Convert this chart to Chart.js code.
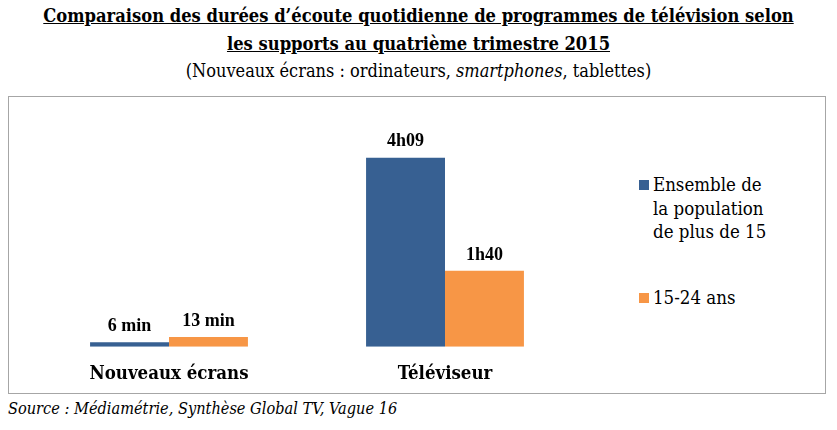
<!DOCTYPE html>
<html lang="fr">
<head>
<meta charset="UTF-8" />
<title>Durées d'écoute quotidienne</title>
<script src="https://cdn.jsdelivr.net/npm/chart.js"></script>
<style>
  body {
    margin: 0;
    width: 837px;
    height: 430px;
    background: #fff;
    font-family: 'DejaVu Serif Condensed', 'Liberation Serif', serif;
    color: #000;
    position: relative;
    overflow: hidden;
  }
  .titre {
    position: absolute;
    left: 0; width: 837px;
    text-align: center;
    font-weight: bold;
    font-size: 18.2px;
    text-decoration: underline;
    white-space: nowrap;
  }
  .sous-titre {
    position: absolute;
    left: 0; width: 837px; top: 60px;
    text-align: center;
    font-size: 18px;
  }
  #cadre {
    position: absolute;
    left: 8px; top: 96px;
    width: 816px; height: 296px;
    border: 1px solid #a6a6a6;
  }
  #cadre canvas { position: absolute; left: 0; top: 0; }
  #legende {
    position: absolute;
    left: 630px; top: 76px;
    font-family: 'DejaVu Serif Condensed', 'Liberation Serif', serif;
    font-size: 18.5px;
    line-height: 23.5px;
  }
  .item { position: relative; padding-left: 14px; }
  .item .carre { position: absolute; left: 0; top: 7px; width: 10px; height: 10px; }
  .source {
    position: absolute;
    left: 8px; top: 399px;
    font-style: italic;
    font-size: 16.2px;
  }
</style>
</head>
<body>

<div class="titre" style="top:5px">Comparaison des durées d’écoute quotidienne de programmes de télévision selon</div>
<div class="titre" style="top:33px"><u>les</u> supports au quatrième trimestre 2015</div>
<div class="sous-titre">(Nouveaux écrans : ordinateurs, <i>smartphones</i>, tablettes)</div>

<div id="cadre">
  <canvas id="graphe" width="600" height="296"></canvas>
  <div id="legende"></div>
</div>

<div class="source">Source : Médiamétrie, Synthèse Global TV, Vague 16</div>

<script>
  // données (minutes par jour)
  const supports = ['Nouveaux écrans', 'Téléviseur'];
  const nomsSeries = ['Ensemble de la population de plus de 15', '15-24 ans'];
  const legendeLignes = [['Ensemble de', 'la population', 'de plus de 15'], ['15-24 ans']];
  const ensemble = [6, 249];
  const jeunes = [13, 100];
  const etiquettesEnsemble = ['6 min', '4h09'];
  const etiquettesJeunes = ['13 min', '1h40'];
  const couleurs = ['#376092', '#f79646'];

  // étiquettes au-dessus des barres
  const etiquettesPlugin = {
    id: 'etiquettes',
    afterDatasetsDraw(chart) {
      const ctx = chart.ctx;
      const textes = [etiquettesEnsemble, etiquettesJeunes];
      ctx.save();
      ctx.font = 'bold 18px "Liberation Serif", serif';
      ctx.fillStyle = '#000';
      ctx.textAlign = 'center';
      ctx.textBaseline = 'middle';
      chart.data.datasets.forEach((ds, i) => {
        chart.getDatasetMeta(i).data.forEach((bar, j) => {
          ctx.fillText(textes[i][j], bar.x, bar.y - 16);
        });
      });
      ctx.restore();
    }
  };

  new Chart(document.getElementById('graphe'), {
    type: 'bar',
    data: {
      labels: supports,
      datasets: [
        { label: nomsSeries[0], data: ensemble, backgroundColor: couleurs[0] },
        { label: nomsSeries[1], data: jeunes, backgroundColor: couleurs[1] }
      ]
    },
    options: {
      responsive: false,
      animation: false,
      events: [],
      layout: { padding: { left: 22, right: 26, top: 0, bottom: 0 } },
      datasets: { bar: { barPercentage: 1, categoryPercentage: 0.572 } },
      plugins: { legend: { display: false }, tooltip: { enabled: false } },
      scales: {
        x: {
          grid: { display: false },
          border: { display: false },
          ticks: {
            color: '#000',
            padding: 8,
            font: { family: "'DejaVu Serif Condensed', 'Liberation Serif', serif", size: 18.5, weight: 'bold' }
          }
        },
        y: { display: false, min: 0, max: 329 }
      }
    },
    plugins: [etiquettesPlugin]
  });

  // légende HTML
  const legende = document.getElementById('legende');
  legendeLignes.forEach((lignes, i) => {
    const item = document.createElement('div');
    item.className = 'item';
    item.style.marginBottom = i === 0 ? '42px' : '0';
    item.innerHTML = '<span class="carre" style="background:' + couleurs[i] + '"></span>' + lignes.join('<br>');
    legende.appendChild(item);
  });
</script>

</body>
</html>
